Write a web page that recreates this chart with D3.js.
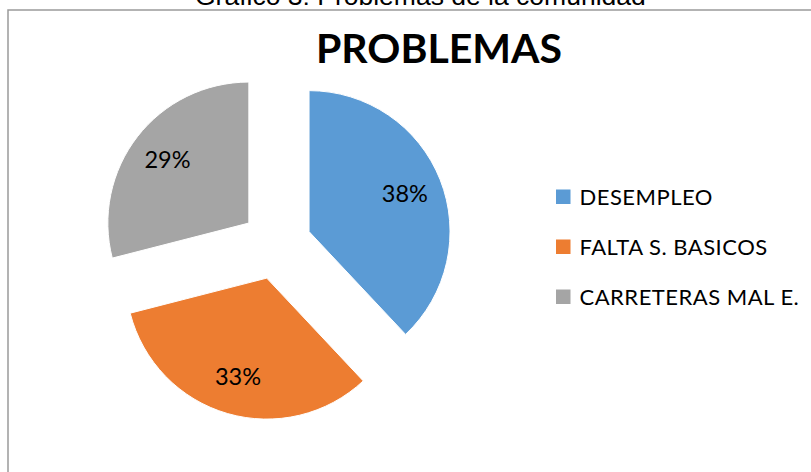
<!DOCTYPE html>
<html>
<head>
<meta charset="utf-8">
<script src="https://cdn.jsdelivr.net/npm/d3@7"></script>
<style>
  html, body { margin: 0; padding: 0; background: #fff; }
  svg { display: block; }
</style>
</head>
<body>
<svg id="chart" width="811" height="472"></svg>
<script>
const categories = ["DESEMPLEO", "FALTA S. BASICOS", "CARRETERAS MAL E."];
const values = [38, 33, 29];
const colors = ["#5B9BD5", "#ED7D31", "#A5A5A5"];
const pageTitle = "Gráfico 3: Problemas de la comunidad";
const chartTitle = "PROBLEMAS";

const svg = d3.select("#chart");

// outer border (extends beyond right/bottom edges)
svg.append("rect")
  .attr("x", 8).attr("y", 10)
  .attr("width", 830).attr("height", 500)
  .attr("fill", "none")
  .attr("stroke", "#9a9a9a")
  .attr("stroke-width", 1.5);

// page caption (cut off at top, as in the source)
svg.append("text")
  .attr("x", 195).attr("y", 5)
  .attr("font-family", "Liberation Sans, Arial, sans-serif")
  .attr("font-size", 26.5)
  .attr("fill", "#000")
  .text(pageTitle);

// chart title
svg.append("text")
  .attr("x", 439).attr("y", 63)
  .attr("text-anchor", "middle")
  .attr("font-family", "Lato, Carlito, sans-serif")
  .attr("font-weight", "bold")
  .attr("font-size", 41)
  .attr("fill", "#000")
  .text(chartTitle);

const cx = 276.5, cy = 244.5, r = 141, explode = 35, labelR = 103;

const pie = d3.pie().sort(null).value(d => d)(values);
const arc = d3.arc().innerRadius(0).outerRadius(r);

const g = svg.append("g").attr("transform", `translate(${cx},${cy})`);

const offset = d => {
  const a = (d.startAngle + d.endAngle) / 2;
  return [Math.sin(a) * explode, -Math.cos(a) * explode];
};

g.selectAll("path.slice")
  .data(pie)
  .join("path")
  .attr("class", "slice")
  .attr("d", arc)
  .attr("fill", (d, i) => colors[i])
  .attr("stroke", "#fff")
  .attr("stroke-width", 1)
  .attr("transform", d => { const o = offset(d); return `translate(${o[0]},${o[1]})`; });

g.selectAll("text.lbl")
  .data(pie)
  .join("text")
  .attr("class", "lbl")
  .attr("transform", d => {
    const a = (d.startAngle + d.endAngle) / 2;
    const o = offset(d);
    return `translate(${o[0] + Math.sin(a) * labelR},${o[1] - Math.cos(a) * labelR})`;
  })
  .attr("text-anchor", "middle")
  .attr("dy", "0.36em")
  .attr("font-family", "Lato, Carlito, sans-serif")
  .attr("font-size", 23.5)
  .attr("fill", "#000")
  .text(d => d.value + "%");

// legend
const legend = svg.append("g").attr("transform", "translate(556,189.5)");
const rows = legend.selectAll("g")
  .data(categories)
  .join("g")
  .attr("transform", (d, i) => `translate(0,${i * 50})`);
rows.append("rect")
  .attr("width", 14.5).attr("height", 14.5)
  .attr("fill", (d, i) => colors[i]);
rows.append("text")
  .attr("x", 23.5).attr("y", 15)
  .attr("font-family", "Lato, Carlito, sans-serif")
  .attr("font-size", 22)
  .attr("letter-spacing", 0.5)
  .attr("fill", "#000")
  .text(d => d);
</script>
</body>
</html>
